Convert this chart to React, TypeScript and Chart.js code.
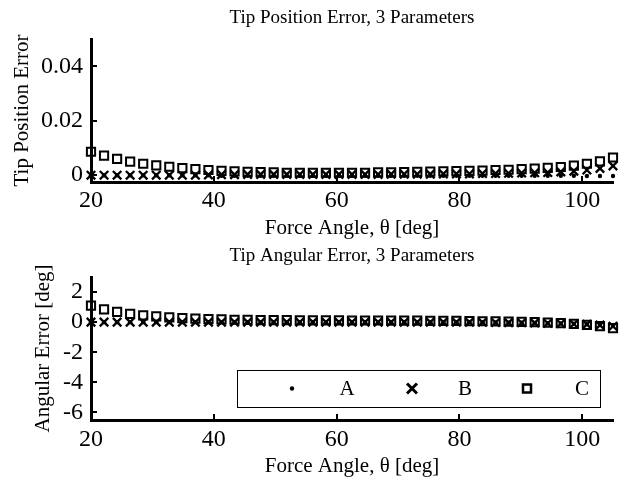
import React, { useEffect, useRef } from 'react';
import { Chart, registerables } from 'chart.js';

Chart.register(...registerables);

const FONT = "'Liberation Serif', 'Times New Roman', Times, serif";

// ---------------- data ----------------
const forceAngle = [
  20, 22.125, 24.25, 26.375, 28.5, 30.625, 32.75, 34.875, 37, 39.125,
  41.25, 43.375, 45.5, 47.625, 49.75, 51.875, 54, 56.125, 58.25, 60.375,
  62.5, 64.625, 66.75, 68.875, 71, 73.125, 75.25, 77.375, 79.5, 81.625,
  83.75, 85.875, 88, 90.125, 92.25, 94.375, 96.5, 98.625, 100.75, 102.875,
  105,
];

const xTickValues = [20, 40, 60, 80, 100];
const xTickLabels = ['20', '40', '60', '80', '100'];

const posTickValues = [0, 0.02, 0.04];
const posTickLabels = ['0', '0.02', '0.04'];

const angTickValues = [2, 0, -2, -4, -6];
const angTickLabels = ['2', '0', '-2', '-4', '-6'];

const seriesNames = ['A', 'B', 'C'];

const posA = [
  0, 0, 0, 0, 0, 0, 0, 0, 0, 0,
  -0.0002, -0.0002, -0.0002, -0.0002, -0.0002, -0.0002, -0.0002, -0.0002, -0.0002, -0.0002,
  -0.0002, -0.0002, -0.0002, -0.0002, -0.0002, -0.0002, -0.0002, -0.0002, -0.0002, -0.0002,
  -0.0002, -0.0002, -0.0002, -0.0002, -0.0002, -0.0002, -0.0002, -0.0002, -0.0003, -0.0003,
  -0.0003,
];
const posB = [
  0, 0, 0, 0, 0, 0, 0, 0, 0, 0.0001,
  0.0002, 0.0002, 0.0003, 0.0003, 0.0003, 0.0003, 0.0003, 0.0003, 0.0003, 0.0003,
  0.0003, 0.0003, 0.0003, 0.0004, 0.0004, 0.0004, 0.0004, 0.0005, 0.0005, 0.0005,
  0.0006, 0.0006, 0.0007, 0.0008, 0.0009, 0.001, 0.0012, 0.0015, 0.0019, 0.0025,
  0.0034,
];
const posC = [
  0.0086, 0.0072, 0.006, 0.005, 0.0042, 0.0036, 0.0031, 0.0026, 0.0022, 0.0019,
  0.0016, 0.0014, 0.0012, 0.0011, 0.001, 0.0009, 0.0009, 0.0009, 0.0009, 0.0009,
  0.0009, 0.0009, 0.001, 0.001, 0.0011, 0.0012, 0.0013, 0.0014, 0.0015, 0.0016,
  0.0017, 0.0019, 0.002, 0.0022, 0.0024, 0.0027, 0.003, 0.0035, 0.0042, 0.0051,
  0.0065,
];

const angA = [
  0, 0, 0, 0, 0, 0, 0, 0, 0, 0,
  0, 0, 0, 0, 0, 0, 0, 0, 0, 0,
  0, 0, 0, 0, 0, 0, 0, 0, 0, 0,
  -0.01, -0.02, -0.03, -0.04, -0.05, -0.07, -0.09, -0.11, -0.14, -0.19,
  -0.26,
];
const angB = [
  0, 0, 0, 0, 0, 0, 0, 0, 0, 0,
  0, 0, 0, 0, 0, 0, 0, 0, 0, 0,
  0, 0, 0, 0, 0, 0, 0, 0, 0, 0,
  -0.01, -0.02, -0.03, -0.04, -0.05, -0.07, -0.09, -0.12, -0.15, -0.2,
  -0.27,
];
const angC = [
  1.1, 0.85, 0.68, 0.55, 0.45, 0.38, 0.32, 0.27, 0.23, 0.2,
  0.18, 0.16, 0.15, 0.14, 0.13, 0.13, 0.12, 0.12, 0.12, 0.12,
  0.11, 0.11, 0.11, 0.1, 0.1, 0.1, 0.09, 0.09, 0.08, 0.07,
  0.06, 0.05, 0.04, 0.02, 0, -0.03, -0.07, -0.12, -0.18, -0.27,
  -0.4,
];

// ---------------- helpers ----------------
const toPoints = (ys: number[]) => forceAngle.map((x, i) => ({ x, y: ys[i] }));

const markerStyles = [
  { pointStyle: 'circle', pointRadius: 2.2, pointBorderWidth: 0, pointBackgroundColor: '#000', pointBorderColor: '#000' },
  { pointStyle: 'crossRot', pointRadius: 6, pointBorderWidth: 2.3, pointBackgroundColor: 'rgba(0,0,0,0)', pointBorderColor: '#000' },
  { pointStyle: 'rect', pointRadius: 5.8, pointBorderWidth: 2, pointBackgroundColor: 'rgba(0,0,0,0)', pointBorderColor: '#000' },
];

function makeDatasets(series: number[][]) {
  return series.map((ys, i) => ({
    label: seriesNames[i],
    data: toPoints(ys),
    showLine: false,
    clip: false as any,
    order: 3 - i,
    ...markerStyles[i],
  }));
}

const inwardTicks = {
  id: 'inwardTicks',
  beforeDatasetsDraw(chart: any) {
    const { ctx, chartArea, scales } = chart;
    ctx.save();
    ctx.strokeStyle = '#000';
    ctx.lineWidth = 2;
    xTickValues.forEach((v) => {
      const px = Math.round(scales.x.getPixelForValue(v));
      ctx.beginPath();
      ctx.moveTo(px, chartArea.bottom);
      ctx.lineTo(px, chartArea.bottom - 6);
      ctx.stroke();
    });
    scales.y.ticks.forEach((t: any) => {
      const py = Math.round(scales.y.getPixelForValue(t.value));
      ctx.beginPath();
      ctx.moveTo(chartArea.left, py);
      ctx.lineTo(chartArea.left + 6, py);
      ctx.stroke();
    });
    ctx.restore();
  },
};

const plotTitle = {
  id: 'plotTitle',
  afterDraw(chart: any, _args: any, opts: any) {
    const { ctx, chartArea } = chart;
    ctx.save();
    ctx.fillStyle = '#000';
    ctx.font = `19px ${FONT}`;
    ctx.textAlign = 'center';
    ctx.textBaseline = 'middle';
    ctx.fillText(opts.text, (chartArea.left + chartArea.right) / 2, opts.y);
    ctx.restore();
  },
};

const legendBox = {
  id: 'legendBox',
  afterDatasetsDraw(chart: any) {
    const { ctx, chartArea } = chart;
    const left = chartArea.left + 146;
    const right = chartArea.right - 13;
    const top = chartArea.top + 93;
    const bottom = chartArea.bottom - 13;
    const cy = (top + bottom) / 2;
    ctx.save();
    ctx.fillStyle = '#fff';
    ctx.fillRect(left, top, right - left, bottom - top);
    ctx.strokeStyle = '#000';
    ctx.lineWidth = 1;
    ctx.strokeRect(left + 0.5, top + 0.5, right - left, bottom - top);
    const markerX = [55, 175, 290];
    const textX = [110, 228, 345];
    ctx.fillStyle = '#000';
    ctx.font = `21px ${FONT}`;
    ctx.textAlign = 'center';
    ctx.textBaseline = 'middle';
    seriesNames.forEach((name, i) => {
      const mx = left + markerX[i];
      if (i === 0) {
        ctx.beginPath();
        ctx.arc(mx, cy, 2.2, 0, Math.PI * 2);
        ctx.fill();
      } else if (i === 1) {
        ctx.lineWidth = 3;
        ctx.beginPath();
        ctx.moveTo(mx - 5, cy - 5);
        ctx.lineTo(mx + 5, cy + 5);
        ctx.moveTo(mx - 5, cy + 5);
        ctx.lineTo(mx + 5, cy - 5);
        ctx.stroke();
      } else {
        ctx.lineWidth = 2.5;
        ctx.strokeRect(mx - 4, cy - 4, 8, 8);
      }
      ctx.fillText(name, left + textX[i], cy + 1);
    });
    ctx.restore();
  },
};

function makeConfig(opts: {
  series: number[][];
  title: string;
  titleY: number;
  areaTop: number;
  yTitle: string;
  yTitlePad: number;
  yMin: number;
  yMax: number;
  yTickValues: number[];
  yTickLabels: string[];
  xHeight: number;
  xTickPad: number;
  xTitleBottom: number;
  legend: boolean;
}): any {
  return {
    type: 'scatter',
    data: { datasets: makeDatasets(opts.series) },
    plugins: opts.legend ? [inwardTicks, legendBox, plotTitle] : [inwardTicks, plotTitle],
    options: {
      animation: false,
      responsive: false,
      events: [],
      layout: { padding: { left: 0, right: 15, top: opts.areaTop, bottom: 0 } },
      plugins: {
        legend: { display: false },
        tooltip: { enabled: false },
        title: { display: false },
        plotTitle: { text: opts.title, y: opts.titleY },
      },
      scales: {
        x: {
          type: 'linear',
          min: 20,
          max: 105,
          afterBuildTicks: (s: any) => {
            s.ticks = xTickValues.map((v) => ({ value: v }));
          },
          afterFit: (s: any) => {
            s.height = opts.xHeight;
          },
          grid: { display: false, drawTicks: false },
          border: { display: true, color: '#000', width: 3 },
          ticks: {
            color: '#000',
            font: { family: FONT, size: 24 },
            padding: opts.xTickPad,
            maxRotation: 0,
            autoSkip: false,
            callback: (v: number) => {
              const i = xTickValues.indexOf(v);
              return i >= 0 ? xTickLabels[i] : '';
            },
          },
          title: {
            display: true,
            text: 'Force Angle, θ [deg]',
            color: '#000',
            font: { family: FONT, size: 21 },
            padding: { top: 0, bottom: opts.xTitleBottom },
          },
        },
        y: {
          type: 'linear',
          min: opts.yMin,
          max: opts.yMax,
          afterBuildTicks: (s: any) => {
            s.ticks = opts.yTickValues.map((v) => ({ value: v }));
          },
          afterFit: (s: any) => {
            s.width = 91;
          },
          grid: { display: false, drawTicks: false },
          border: { display: true, color: '#000', width: 3 },
          ticks: {
            color: '#000',
            font: { family: FONT, size: 24 },
            padding: 8,
            autoSkip: false,
            callback: (v: number) => {
              const i = opts.yTickValues.indexOf(v);
              return i >= 0 ? opts.yTickLabels[i] : '';
            },
          },
          title: {
            display: true,
            text: opts.yTitle,
            color: '#000',
            font: { family: FONT, size: 21 },
            padding: { top: opts.yTitlePad, bottom: 0 },
          },
        },
      },
    },
  };
}

export default function App() {
  const topRef = useRef<HTMLCanvasElement | null>(null);
  const botRef = useRef<HTMLCanvasElement | null>(null);

  useEffect(() => {
    const top = new Chart(
      topRef.current as HTMLCanvasElement,
      makeConfig({
        series: [posA, posB, posC],
        title: 'Tip Position Error, 3 Parameters',
        titleY: 18,
        areaTop: 39,
        yTitle: 'Tip Position Error',
        yTitlePad: 10,
        yMin: -0.0025,
        yMax: 0.05,
        yTickValues: posTickValues,
        yTickLabels: posTickLabels,
        xHeight: 59,
        xTickPad: 4,
        xTitleBottom: 0,
        legend: false,
      })
    );
    const bot = new Chart(
      botRef.current as HTMLCanvasElement,
      makeConfig({
        series: [angA, angB, angC],
        title: 'Tip Angular Error, 3 Parameters',
        titleY: 15,
        areaTop: 36,
        yTitle: 'Angular Error [deg]',
        yTitlePad: 31,
        yMin: -6.5,
        yMax: 3,
        yTickValues: angTickValues,
        yTickLabels: angTickLabels,
        xHeight: 63,
        xTickPad: 5,
        xTitleBottom: 4,
        legend: true,
      })
    );
    return () => {
      top.destroy();
      bot.destroy();
    };
  }, []);

  return (
    <div style={{ position: 'absolute', left: 0, top: 0, width: 628, height: 483, background: '#fff' }}>
      <canvas ref={topRef} width={628} height={241} style={{ position: 'absolute', left: 0, top: 0, display: 'block' }} />
      <canvas ref={botRef} width={628} height={242} style={{ position: 'absolute', left: 0, top: 241, display: 'block' }} />
    </div>
  );
}
